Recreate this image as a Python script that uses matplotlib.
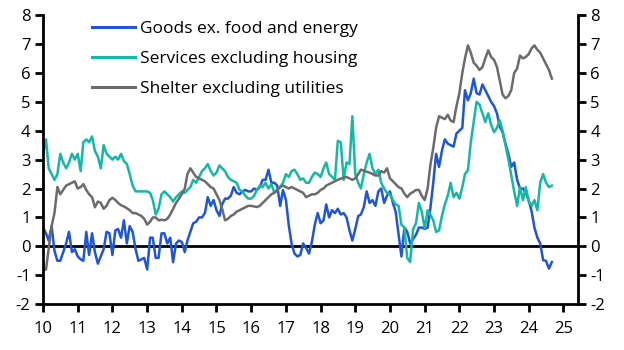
import numpy as np
import pandas as pd
import matplotlib
matplotlib.use("Agg")
import matplotlib.pyplot as plt
import matplotlib.dates as mdates

plt.rcParams['font.family'] = ['Open Sans', 'DejaVu Sans']
plt.rcParams['axes.unicode_minus'] = False

# monthly y/y % , Jan 2010 - Sep 2024
goods = [
    0.65, 0.45, 0.2, 0.7, -0.15, -0.5, -0.5, -0.2, 0.1, 0.5, -0.2, -0.1,
    -0.35, -0.45, -0.5, 0.5, -0.3, 0.45, -0.2, -0.6, -0.35, -0.1, 0.5, 0.45,
    -0.3, 0.55, 0.6, 0.3, 0.9, 0.1, 0.7, 0.5, -0.1, -0.5, -0.45, -0.4,
    -0.8, 0.3, 0.3, -0.4, -0.4, 0.45, 0.45, 0.1, 0.3, -0.55, 0.1, 0.2,
    0.15, -0.2, 0.2, 0.5, 0.8, 0.85, 1.0, 1.0, 1.15, 1.7, 1.4, 1.6,
    1.25, 1.05, 1.45, 1.65, 1.65, 1.75, 2.05, 1.85, 1.8, 1.9, 1.95, 1.9,
    1.9, 2.0, 1.95, 2.05, 2.3, 2.3, 2.65, 2.2, 2.2, 2.1, 1.4, 1.95,
    1.6, 0.7, 0.1, -0.25, -0.35, -0.3, 0.1, -0.05, -0.25, 0.15, 0.75, 1.15,
    0.8, 0.9, 1.45, 1.0, 1.25, 1.15, 1.3, 1.1, 1.15, 1.0, 0.55, 0.2,
    0.6, 1.05, 1.1, 1.36, 1.9, 1.5, 1.6, 1.4, 1.9, 2.0, 1.5, 1.75,
    1.9, 1.5, 1.2, 0.4, -0.35, 0.65, 0.5, 0.1, 0.25, 0.4, 0.65, 0.65,
    0.6, 0.65, 1.3, 2.2, 3.2, 2.75, 3.3, 3.7, 3.55, 3.5, 3.45, 3.9,
    4.0, 4.1, 5.4, 5.05, 5.3, 5.8, 5.3, 5.25, 5.6, 5.4, 5.2, 5.0,
    4.85, 4.6, 4.15, 3.95, 3.55, 3.2, 2.75, 2.9, 2.3, 2.0, 2.0, 1.85,
    1.6, 1.2, 0.65, 0.3, 0.1, -0.48, -0.5, -0.77, -0.54,
]

services = [
    3.2, 3.7, 2.7, 2.5, 2.3, 2.5, 3.2, 2.9, 2.7, 2.9, 3.2, 3.0,
    3.2, 2.6, 3.6, 3.7, 3.6, 3.8, 3.3, 3.1, 2.7, 3.5, 3.2, 3.1,
    3.0, 3.1, 3.0, 3.2, 2.95, 2.85, 2.5, 2.1, 1.9, 1.9, 1.9, 1.9,
    1.9, 1.85, 1.6, 1.1, 1.3, 1.8, 1.9, 1.8, 1.7, 1.55, 1.7, 1.8,
    1.9, 1.85, 1.95, 2.05, 2.3, 2.2, 2.4, 2.6, 2.7, 2.85, 2.6, 2.45,
    2.55, 2.8, 2.7, 2.6, 2.4, 2.3, 2.25, 2.2, 1.95, 1.9, 1.75, 1.65,
    1.65, 1.75, 1.95, 2.1, 2.05, 2.2, 2.0, 2.15, 1.85, 1.95, 2.05, 2.2,
    2.5, 2.4, 2.6, 2.65, 2.5, 2.3, 2.35, 2.2, 2.2, 2.4, 2.55, 2.5,
    2.4, 2.7, 2.9, 2.5, 2.4, 2.3, 3.65, 3.6, 2.3, 2.9, 2.85, 4.5,
    2.5, 2.2, 2.0, 2.5, 2.9, 3.2, 2.7, 2.5, 2.65, 2.2, 2.0, 1.85,
    1.8, 1.6, 1.45, 1.4, 0.75, 0.65, -0.4, -0.54, 0.6, 0.8, 1.5, 1.2,
    0.62, 1.25, 1.1, 0.9, 0.5, 0.55, 1.05, 1.45, 1.75, 2.2, 1.7, 1.85,
    1.65, 2.05, 2.5, 2.63, 3.6, 4.3, 5.0, 4.9, 4.6, 4.3, 4.6, 4.2,
    3.95, 4.1, 4.36, 4.0, 3.5, 3.0, 2.45, 1.9, 1.4, 2.05, 1.6, 2.05,
    1.55, 1.4, 1.6, 1.25, 2.2, 2.5, 2.2, 2.05, 2.1,
]

shelter = [
    -0.83, -0.8, -0.1, 0.7, 1.15, 2.05, 1.8, 1.95, 2.1, 2.15, 2.2, 2.25,
    2.0, 2.05, 2.15, 1.95, 1.8, 1.7, 1.35, 1.55, 1.5, 1.3, 1.4, 1.6,
    1.68, 1.6, 1.5, 1.42, 1.38, 1.32, 1.25, 1.15, 1.15, 1.1, 1.05, 0.95,
    0.75, 0.85, 1.0, 1.0, 0.9, 0.92, 0.9, 0.95, 1.1, 1.3, 1.5, 1.65,
    1.8, 2.0, 2.5, 2.7, 2.55, 2.4, 2.35, 2.3, 2.25, 2.15, 2.05, 2.0,
    1.8, 1.6, 1.3, 0.9, 0.95, 1.05, 1.1, 1.2, 1.25, 1.3, 1.35, 1.4,
    1.4, 1.38, 1.36, 1.4, 1.5, 1.6, 1.7, 1.8, 1.85, 1.95, 2.05, 2.1,
    2.05, 2.0, 2.05, 2.0, 1.95, 1.9, 1.85, 1.7, 1.75, 1.8, 1.8, 1.85,
    1.95, 2.0, 2.1, 2.15, 2.2, 2.25, 2.3, 2.34, 2.38, 2.4, 2.35, 2.3,
    2.35, 2.5, 2.65, 2.62, 2.58, 2.55, 2.5, 2.45, 2.45, 2.6, 2.55, 2.7,
    2.35, 2.25, 2.15, 2.05, 2.0, 1.82, 1.7, 1.82, 1.88, 1.95, 1.95, 1.75,
    1.6, 2.0, 2.8, 3.4, 4.1, 4.5, 4.45, 4.4, 4.55, 4.35, 4.3, 4.84,
    5.3, 6.0, 6.5, 6.95, 6.7, 6.35, 6.25, 6.1, 6.2, 6.5, 6.78, 6.55,
    6.45, 6.2, 5.74, 5.25, 5.12, 5.2, 5.4, 6.0, 6.15, 6.6, 6.5, 6.55,
    6.65, 6.85, 6.95, 6.8, 6.7, 6.5, 6.3, 6.1, 5.8,
]

labels = ['Goods ex. food and energy', 'Services excluding housing',
          'Shelter excluding utilities']
colors = ['#1f55d6', '#14b8a6', '#6b6b6b']

dates = pd.date_range('2010-01-01', periods=len(goods), freq='MS')

fig = plt.figure(figsize=(6.24, 3.5), dpi=100)
ax = fig.add_axes([0.069, 0.131, 0.857, 0.826])

ax.axhline(0, color='black', lw=2, zorder=1)
for vals, lab, c in zip([goods, services, shelter], labels, colors):
    ax.plot(dates, vals, color=c, lw=1.8, label=lab, zorder=2)

ax.set_ylim(-2, 8)
ax.set_yticks(range(-2, 9))
ax.set_xlim(pd.Timestamp('2010-01-01'), pd.Timestamp('2025-06-01'))
ax.xaxis.set_major_locator(mdates.YearLocator())
ax.xaxis.set_major_formatter(mdates.DateFormatter('%y'))

ax.spines['top'].set_visible(False)
for s in ['left', 'right', 'bottom']:
    ax.spines[s].set_linewidth(2)
ax.tick_params(axis='both', which='major', direction='out', length=6, width=2,
               labelsize=12, colors='black', pad=3)
ax.tick_params(axis='y', right=True, labelright=True)
ax.tick_params(axis='x', pad=6)

leg = ax.legend(loc='upper left', bbox_to_anchor=(0.062, 1.035), frameon=False,
                fontsize=12.5, handlelength=2.5, handletextpad=0.25,
                labelspacing=0.8)
for h in leg.get_lines():
    h.set_linewidth(2.2)

fig.savefig('out.png', dpi=100)
